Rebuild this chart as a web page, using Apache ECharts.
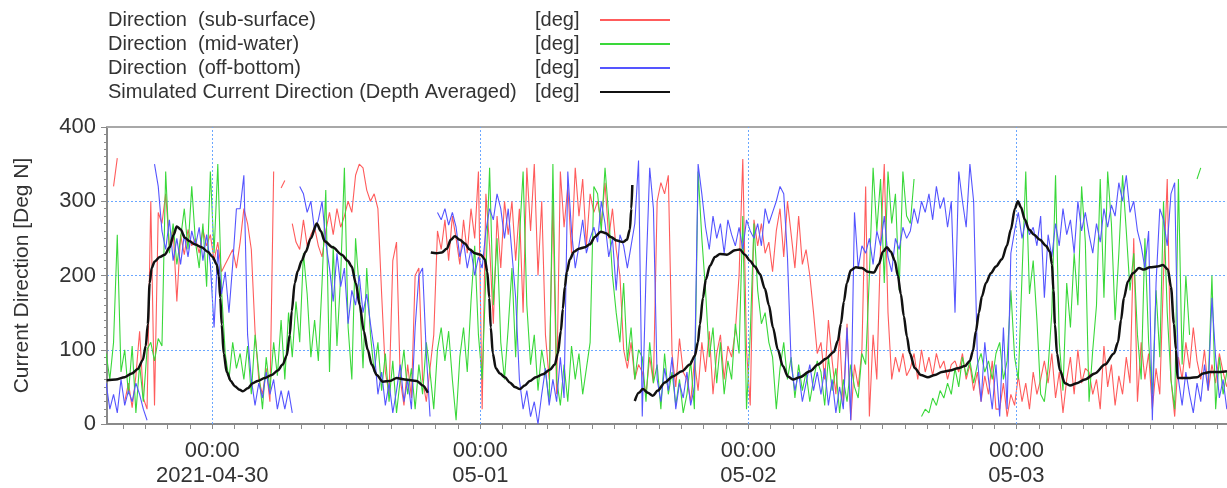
<!DOCTYPE html>
<html>
<head>
<meta charset="utf-8">
<title>Current Direction</title>
<script src="https://cdn.jsdelivr.net/npm/echarts@6/dist/echarts.min.js"></script>
<style>
  html, body { margin: 0; padding: 0; background: #ffffff; }
  #chart { width: 1227px; height: 488px; }
</style>
</head>
<body>
<div id="chart"></div>
<script>
// Time is measured in hours from 2021-04-30 00:00.
// Measured series: one sample every 20 minutes, starting at 2021-04-29 14:30.
const FIRST_SAMPLE_HOUR = -9.5;
const SAMPLE_STEP_HOURS = 1 / 3;

const dayTickHours = [0, 24, 48, 72];
const dayTickLabels = ['2021-04-30', '05-01', '05-02', '05-03'];
const hourTicks = [-8, -6, -4, -2, 0, 2, 4, 6, 8, 10, 12, 14, 16, 18, 20, 22, 24, 26, 28, 30, 32, 34, 36, 38, 40, 42, 44, 46, 48, 50, 52, 54, 56, 58, 60, 62, 64, 66, 68, 70, 72, 74, 76, 78, 80, 82, 84, 86, 88, 90];

// Direction (sub-surface) [deg]
const subSurface = [
  40, null, 320, 358, null, 30, 55, 22, 65, 125, 35, 20,
  300, 25, 285, 270, 310, 240, 262, 165, 255, 228, 262, 240,
  250, 230, 262, 240, 255, 220, 245, 205, 215, 225, 235, 210,
  245, 290, 270, 235, 125, 60, 40, 75, 30, 340, null, 318,
  328, null, 270, 245, 235, 275, 240, 255, 265, 240, 225, 260,
  285, 255, 290, 265, 280, 300, 285, 335, 350, 345, 315, 300,
  310, 290, 175, 70, 40, 220, 245, 60, 25, 80, 35, 200,
  210, 60, 30, 75, 120, 260, 235, 275, 220, 280, 250, 215,
  275, 230, 290, 250, 340, 20, 310, 240, 135, 280, 210, 300,
  255, 300, 220, 290, 150, 345, 260, 350, 200, 300, 120, 60,
  300, 40, 340, 265, 320, 230, 345, 280, 330, 240, 310, 285,
  300, 270, 325, 250, 290, 235, 200, 100, 75, 110, 60, 80,
  70, 40, 90, 55, 300, 325, 310, 335, 95, 50, 115, 70,
  60, 30, 85, 45, 110, 70, 125, 40, 95, 120, 60, 105,
  90, 125, 200, 357, 100, 25, 275, 240, 270, 230, 245, 205,
  260, 290, 225, 300, 255, 210, 280, 215, 235, 200, 150, 95,
  110, 60, 140, 85, 40, 120, 25, 135, 5, 80, 50, 100,
  320, 10, 120, 60, 240, 350, 150, 60, 90, 70, 95, 65,
  75, 95, 60, 100, 70, 90, 65, 95, 75, 85, 60, 80,
  85, 70, 95, 60, 80, 45, 70, 30, 65, 40, 85, 20,
  20, 55, 10, 40, 25, 65, 30, 55, 20, 70, 40, 60,
  85, 55, 95, 35, 70, 15, 60, 90, 40, 100, 55, 75,
  70, 40, 60, 20, 105, 50, 80, 25, 65, 40, 90, 55,
  250, 30, 110, 60, 95, 20, 75, 40, 200, 330, 60, 10,
  90, 60, 110, 75, 130, 85, 60, 100, 45, 80, 55, 95,
  70, 50
];

// Direction (mid-water) [deg]
const midWater = [
  95, 60, 110, 255, 70, 100, 40, 105, 15, 80, 30, 100,
  110, 85, 115, 105, 340, 230, 270, 215, 250, 290, 235, 320,
  245, 210, 270, 185, 340, 230, 350, 180, 95, 60, 110, 75,
  95, 60, 105, 40, 120, 70, 20, 90, 45, 110, 65, 140,
  60, 150, 90, 165, 110, 230, 175, 90, 140, 85, 190, 315,
  70, 240, 105, 200, 345, 130, 60, 250, 180, 75, 210, 120,
  70, 110, 45, 95, 30, 85, 15, 60, 100, 40, 75, 20,
  80, 40, 110, 70, 20, 100, 130, 85, 125, 60, 5, 90,
  130, 70, 165, 240, 120, 60, 200, 345, 160, 250, 110, 60,
  130, 210, 90, 250, 340, 160, 80, 120, 45, 100, 70, 30,
  350, 60, 25, 80, 30, 105, 60, 95, 40, 75, 110, 320,
  310, 260, 345, 280, 200, 150, 110, 190, 85, 130, 60, 100,
  90, 30, 110, 55, 80, 20, 95, 40, 70, 25, 60, 15,
  40, 85, 20, 340, 250, 180, 90, 130, 55, 110, 40, 85,
  60, 135, 95, 280, 20, 120, 270, 180, 135, 150, 110, 90,
  20, 75, 110, 60, 90, 35, 80, 45, 70, 30, 60, 85,
  70, 25, 90, 45, 75, 15, 60, 30, 80, 50, 35, 95,
  80, 200, 345, 260, 330, 190, 340, 270, 310, 180, 340, 280,
  270, 330, null, 10, 20, 15, 35, 25, 45, 35, 55, 40,
  75, 50, 90, 65, 85, 55, 80, 95, 70, 85, 60, 95,
  110, 60, 85, 180, 90, 60, 200, 340, 175, 220, 140, 40,
  30, 75, 150, 335, 110, 45, 190, 130, 230, 160, 320, 245,
  30, 100, 160, 330, 170, 340, 270, 140, 230, 335, 260, 180,
  230, 120, 60, 250, 110, 40, 180, 90, 300, 150, 60, 20,
  330, 80, 200, 120, null, 330, 345, null, 50, 200, 20, 90,
  40, 70
];

// Direction (off-bottom) [deg]
const offBottom = [
  55, 20, 40, 15, 60, 25, 45, 30, 55, 40, 20, 5,
  null, 350, 320, 260, 235, 275, 220, 250, 215, 255, 225, 260,
  240, 265, 220, 255, 215, 130, 235, 175, 205, 150, 215, 290,
  290, 335, 120, 60, 25, 55, 35, 70, 40, 60, 20, 45,
  20, 45, 15, null, 320, 310, 285, 300, 260, 275, 300, 245,
  210, 165, 230, 185, 210, 135, 180, 160, 200, 150, 175, 135,
  100, 40, 70, 25, 55, 15, 45, 80, 30, 60, 20, 130,
  200, 210, 95, 10, null, 285, 275, 290, 268, 285, 265, 225,
  245, 210, 235, 200, 225, 210, 260, 290, 275, 310, 290, 250,
  290, 230, 170, 60, 20, 45, 10, 30, 0, 40, 75, 25,
  60, 30, 90, 35, 340, 260, 210, 240, 275, 230, 250, 265,
  245, 300, 270, 225, 250, 180, 255, 240, 210, 240, 270, 355,
  10, 200, 345, 290, 60, 30, 75, 45, 90, 20, 55, 35,
  70, 25, 50, 350, 310, 265, 235, 280, 250, 270, 230, 275,
  255, 240, 265, 235, 275, 260, 250, 270, 240, 290, 270, 285,
  300, 320, 310, 225, 80, 45, 70, 30, 55, 80, 45, 70,
  40, 75, 25, 60, 15, 50, 20, 130, 5, 285, 210, 240,
  230, 250, 215, 260, 240, 280, 225, 205, 250, 235, 265, 250,
  260, 290, 270, 300, 285, 310, 275, 320, 290, 305, 265, 300,
  150, 340, 300, 265, 350, 300, 90, 30, 110, 60, 20, 80,
  10, 130, 20, 230, 260, 285, 250, 275, 255, 265, 240, 280,
  170, 255, 225, 270, 240, 290, 255, 275, 230, 300, 260, 285,
  255, 230, 270, 245, 290, 265, 295, 280, 325, 300, 335, 285,
  300, 260, 240, 210, 260, 5, 190, 290, 275, 240, 310, 325,
  60, 25, 70, 40, 15, 55, 30, 80, 45, 170, 90, 35,
  60, 20
];

// Simulated current direction (depth averaged): [hour, deg]; null marks a break between model runs
const depthAveraged = [
  [-9.45, 59], [-8.64, 60], [-7.84, 63], [-7.2, 68], [-6.67, 74], [-6.22, 86], [-5.95, 105],
  [-5.77, 134], [-5.6, 190], [-5.42, 210], [-5.15, 219], [-4.7, 225], [-4.25, 228], [-3.81, 238],
  [-3.45, 255], [-3.18, 266], [-2.82, 262], [-2.46, 251], [-2.01, 246], [-1.57, 242], [-0.94, 238],
  [-0.4, 232], [0.04, 225], [0.4, 215], [0.58, 200], [0.72, 170], [0.85, 134], [1.03, 95],
  [1.3, 70], [1.66, 58], [2.01, 51], [2.46, 46], [2.73, 44], [3.18, 48], [3.63, 55], [4.07, 58],
  [4.7, 62], [5.33, 66], [5.86, 72], [6.31, 80], [6.67, 92], [6.94, 120], [7.12, 152], [7.39, 190],
  [7.66, 206], [8.01, 220], [8.37, 232], [8.82, 250], [9.36, 270], [9.72, 260], [10.07, 246],
  [10.79, 238], [11.6, 228], [12.13, 220], [12.49, 212], [12.85, 190], [13.21, 160], [13.57, 125],
  [13.92, 100], [14.28, 80], [14.73, 66], [15.27, 57], [15.9, 58], [16.52, 62], [17.24, 60],
  [18.31, 58], [18.85, 52], [19.3, 42],
  [19.45, null],
  [19.57, 231], [20.1, 230], [20.55, 231], [21.0, 236], [21.36, 248], [21.72, 253], [22.16, 248],
  [22.61, 243], [23.06, 235], [23.51, 230], [24.04, 228], [24.4, 222], [24.63, 205], [24.8, 170],
  [24.94, 130], [25.12, 95], [25.39, 75], [25.75, 68], [26.2, 63], [26.64, 56], [27.09, 50],
  [27.54, 47], [27.98, 52], [28.43, 58], [28.97, 63], [29.6, 67], [30.22, 73], [30.67, 80],
  [30.94, 95], [31.21, 125], [31.39, 155], [31.57, 185], [31.75, 205], [32.02, 222], [32.38, 232],
  [32.83, 236], [33.36, 238], [33.81, 242], [34.26, 252], [34.79, 259], [35.24, 257], [35.69, 252],
  [36.23, 247], [36.76, 245], [37.12, 248], [37.39, 262], [37.52, 290], [37.61, 322],
  [37.72, null],
  [37.83, 31], [38.19, 42], [38.55, 47], [39.0, 42], [39.44, 38], [39.89, 45], [40.52, 56],
  [41.23, 64], [42.04, 71], [42.76, 80], [43.21, 92], [43.48, 110], [43.66, 134], [43.93, 170],
  [44.2, 195], [44.56, 213], [45.01, 225], [45.46, 229], [46.08, 228], [46.8, 234], [47.24, 235],
  [47.69, 228], [48.14, 220], [48.58, 212], [49.03, 202], [49.48, 182], [49.84, 160], [50.2, 130],
  [50.64, 100], [51.09, 78], [51.54, 64], [51.99, 60], [52.61, 63], [53.51, 71], [54.22, 80],
  [54.94, 88], [55.65, 97], [56.01, 112], [56.28, 135], [56.55, 165], [56.82, 190], [57.17, 207],
  [57.62, 211], [58.16, 210], [58.7, 205], [59.23, 204], [59.68, 215], [60.04, 232], [60.4, 238],
  [60.75, 232], [61.11, 220], [61.38, 200], [61.65, 175], [61.92, 145], [62.19, 118], [62.46, 95],
  [62.91, 75], [63.44, 66], [64.07, 63], [64.7, 66], [65.33, 70], [66.04, 72], [66.76, 75],
  [67.39, 78], [67.83, 85], [68.1, 98], [68.37, 125], [68.64, 150], [68.91, 172], [69.27, 190],
  [69.71, 203], [70.16, 212], [70.7, 222], [71.14, 240], [71.5, 262], [71.86, 290], [72.13, 300],
  [72.4, 292], [72.76, 275], [73.12, 262], [73.57, 255], [74.1, 248], [74.64, 240], [75.0, 232],
  [75.18, 215], [75.31, 180], [75.45, 134], [75.63, 95], [75.9, 72], [76.34, 55], [76.79, 52],
  [77.41, 55], [78.13, 60], [79.02, 68], [79.92, 80], [80.73, 95], [81.09, 110], [81.36, 140],
  [81.62, 170], [81.98, 192], [82.43, 203], [82.97, 210], [83.41, 208], [83.95, 211], [84.58, 212],
  [85.12, 214], [85.56, 208], [85.83, 185], [86.1, 135], [86.28, 100], [86.42, 62], [86.91, 62],
  [87.54, 62], [88.17, 63], [88.7, 68], [89.33, 70], [90.23, 70], [90.85, 71]
];

const yTicks = [0, 100, 200, 300, 400];

// pair each sample with its hour
function withHours(values) {
  return values.map((v, i) => [FIRST_SAMPLE_HOUR + i * SAMPLE_STEP_HOURS, v]);
}

const FONT = '"Liberation Sans", Arial, Helvetica, sans-serif';
const TEXT = '#333333';
const AXIS = '#8a8a8a';
const GRID = '#6aa6ff';

const chart = echarts.init(document.getElementById('chart'), null, { renderer: 'canvas' });

const lineSeries = (name, data, color, width, z) => ({
  name, type: 'line', data,
  symbol: 'none', showSymbol: false, connectNulls: false,
  lineStyle: { color, width }, itemStyle: { color },
  silent: true, animation: false, z
});

chart.setOption({
  animation: false,
  textStyle: { fontFamily: FONT },
  grid: { left: 107, right: 0, top: 127, bottom: 63, containLabel: false },
  legend: {
    data: ['Direction  (sub-surface)', 'Direction  (mid-water)', 'Direction  (off-bottom)',
           'Simulated Current Direction (Depth Averaged)'],
    orient: 'vertical', left: 108, top: 10, padding: 0,
    align: 'right', itemWidth: 70, itemHeight: 14, itemGap: 4,
    selectedMode: false,
    itemStyle: { opacity: 0 },
    formatter: (name) => `{n|${name}}{u|[deg]}`,
    textStyle: {
      fontFamily: FONT, fontSize: 20, color: TEXT,
      rich: {
        n: { width: 427, align: 'left', fontSize: 20, fontFamily: FONT, color: TEXT },
        u: { width: 60, align: 'left', fontSize: 20, fontFamily: FONT, color: TEXT }
      }
    }
  },
  xAxis: [{
    type: 'value', min: -9.42, max: 90.85, position: 'bottom',
    axisLine: { show: true, onZero: false, lineStyle: { color: AXIS, width: 2 } },
    axisTick: { show: true, customValues: hourTicks, length: 5, lineStyle: { color: AXIS, width: 1 } },
    axisLabel: {
      show: true, customValues: dayTickHours, margin: 14,
      fontFamily: FONT, fontSize: 22, color: TEXT, lineHeight: 25,
      formatter: (v) => {
        const k = dayTickHours.indexOf(Math.round(v));
        return k < 0 ? '' : '00:00\n' + dayTickLabels[k];
      }
    },
    splitLine: { show: false }
  }, {
    type: 'value', min: -9.42, max: 90.85, position: 'top',
    axisLine: { show: true, onZero: false, lineStyle: { color: '#a8a8a8', width: 2 } },
    axisTick: { show: false }, axisLabel: { show: false }, splitLine: { show: false }
  }],
  yAxis: {
    type: 'value', min: 0, max: 400, interval: 100, position: 'left',
    name: 'Current Direction [Deg N]', nameLocation: 'middle', nameGap: 74,
    nameTextStyle: { fontFamily: FONT, fontSize: 21, color: TEXT },
    axisLine: { show: true, onZero: false, lineStyle: { color: AXIS, width: 2 } },
    axisTick: { show: true, length: 6, lineStyle: { color: AXIS } },
    minorTick: { show: true, splitNumber: 10, length: 3, lineStyle: { color: AXIS } },
    axisLabel: {
      fontFamily: FONT, fontSize: 22, color: TEXT, margin: 11, padding: [3, 0, 0, 0],
      formatter: (v) => (yTicks.includes(v) ? String(v) : '')
    },
    splitLine: { show: true, lineStyle: { color: GRID, width: 1, type: [2, 2] } }
  },
  series: [
    {
      name: 'dayLines', type: 'line', data: [], silent: true, z: 1,
      markLine: {
        silent: true, symbol: ['none', 'none'], animation: false,
        label: { show: false },
        lineStyle: { color: GRID, width: 1, type: [2, 2] },
        data: dayTickHours.map((h) => ({ xAxis: h }))
      }
    },
    lineSeries('Direction  (sub-surface)', withHours(subSurface), '#ff5c5c', 1.1, 2),
    lineSeries('Direction  (mid-water)', withHours(midWater), '#3ad83a', 1.1, 3),
    lineSeries('Direction  (off-bottom)', withHours(offBottom), '#5555ff', 1.1, 4),
    Object.assign(
      lineSeries('Simulated Current Direction (Depth Averaged)', depthAveraged, '#111111', 2.5, 5),
      { smooth: 0.3, smoothMonotone: 'x' }
    )
  ]
});
</script>
</body>
</html>
